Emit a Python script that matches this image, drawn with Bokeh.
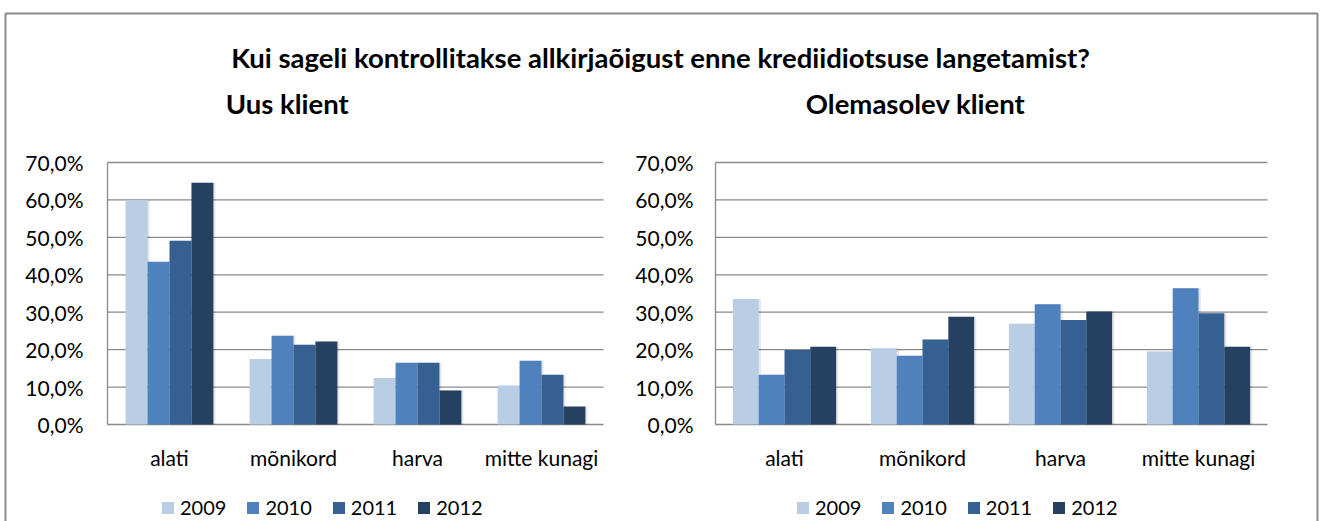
from bokeh.plotting import figure
from bokeh.models import (Range1d, Legend, LegendItem, ColumnDataSource, Label, LabelSet)
from bokeh.core.properties import value
from bokeh.transform import dodge
from bokeh.embed import file_html
from bokeh.resources import INLINE

# ---------------- data ----------------
main_title = "Kui sageli kontrollitakse allkirjaõigust enne krediidiotsuse langetamist?"
categories = ["alati", "mõnikord", "harva", "mitte kunagi"]
years = ["2009", "2010", "2011", "2012"]

uus_title = "Uus klient"
uus_2009 = [60.0, 17.5, 12.4, 10.4]
uus_2010 = [43.5, 23.7, 16.5, 17.0]
uus_2011 = [49.1, 21.3, 16.5, 13.3]
uus_2012 = [64.6, 22.2, 9.1, 4.8]

ole_title = "Olemasolev klient"
ole_2009 = [33.5, 20.4, 26.9, 19.5]
ole_2010 = [13.3, 18.4, 32.1, 36.4]
ole_2011 = [19.9, 22.7, 27.9, 29.7]
ole_2012 = [20.8, 28.8, 30.2, 20.8]

y_ticks = [0, 10, 20, 30, 40, 50, 60, 70]
y_tick_labels = ["0,0%", "10,0%", "20,0%", "30,0%", "40,0%", "50,0%", "60,0%", "70,0%"]

colors = ["#B9CDE5", "#4F81BD", "#376092", "#254061"]

FONT = "Lato"
GRID = "#8a8a8a"
TICK_FS = "21px"

# category slots: category i occupies [i, i+1] on each chart's x scale
cat_pos = [i + 0.5 for i in range(len(categories))]
n_cat = len(categories)

W, H = 1320, 521
PX_Y = 262 / 70          # pixels per percentage point
# ---------------- figure ----------------
# the frame covers the whole canvas; the left chart uses the main x range,
# the right chart an extra x range, both share the y range (0..70 %)
p = figure(x_range=Range1d(-107 / 124, -107 / 124 + W / 124),
           y_range=Range1d(-(H - 424) / PX_Y, 70 + 162 / PX_Y),
           width=W, height=H,
           min_border_left=0, min_border_right=0,
           min_border_top=0, min_border_bottom=0,
           output_backend="svg", toolbar_location=None,
           outline_line_color=None)
p.extra_x_ranges = {"right": Range1d(-715 / 138, -715 / 138 + W / 138)}
p.xaxis.visible = False
p.yaxis.visible = False
p.xgrid.grid_line_color = None
p.ygrid.grid_line_color = None

# outer frame of the picture
p.line(x=[-0.8226, -0.8226, 9.758, 9.758], y=[-40, 109.8, 109.8, -40],
       line_color=GRID, line_width=2)

grid_src = ColumnDataSource(dict(y=y_ticks, lab=y_tick_labels))
cat_src = ColumnDataSource(dict(x=cat_pos, cat=categories))


def chart(subtitle, series, rng, bar_w, label_gap):
    # gridlines + vertical axis line
    p.segment(x0=0, x1=n_cat, y0="y", y1="y", source=grid_src, x_range_name=rng,
              line_color=GRID, line_width=1.3)
    p.segment(x0=0, x1=0, y0=y_ticks[0], y1=y_ticks[-1], x_range_name=rng,
              line_color=GRID, line_width=1.3)
    src = ColumnDataSource(dict(x=cat_pos, **{y: s for y, s in zip(years, series)}))
    rend = []
    for i, (yr, c) in enumerate(zip(years, colors)):
        off = (i - 1.5) * bar_w
        # soft shadow like the original chart
        p.vbar(x=dodge("x", off + 0.016), top=yr, width=bar_w, source=src,
               x_range_name=rng, fill_color="#000000", fill_alpha=0.10, line_color=None)
        r = p.vbar(x=dodge("x", off), top=yr, width=bar_w, source=src,
                   x_range_name=rng, fill_color=c, line_color=None)
        rend.append(r)
    # tick labels
    p.add_layout(LabelSet(x=0, y="y", text="lab", source=grid_src, x_range_name=rng,
                          x_offset=-label_gap, text_align="right", text_baseline="middle",
                          text_font=value(FONT), text_font_size=value(TICK_FS),
                          text_color="#000000"))
    # category labels
    p.add_layout(LabelSet(x="x", y=-8.8, text="cat", source=cat_src, x_range_name=rng,
                          text_align="center", text_baseline="middle",
                          text_font=value(FONT), text_font_size=value(TICK_FS),
                          text_color="#000000"))
    # subtitle
    p.add_layout(Label(x=1.45, y=85.8, text=subtitle, x_range_name=rng,
                       text_align="center", text_baseline="middle",
                       text_font=FONT, text_font_size="27.5px", text_font_style="bold",
                       text_color="#000000"))
    return rend


r_left = chart(uus_title, [uus_2009, uus_2010, uus_2011, uus_2012], "default", 0.177, 24)
r_right = chart(ole_title, [ole_2009, ole_2010, ole_2011, ole_2012], "right", 0.187, 22)

# main title
p.add_layout(Label(x=4.46, y=98.0, text=main_title,
                   text_align="center", text_baseline="middle",
                   text_font=FONT, text_font_size="27.5px", text_font_style="bold",
                   text_color="#000000"))

# legends
for rend, loc in ((r_left, (160, 2)), (r_right, (795, 2))):
    legend = Legend(items=[LegendItem(label=y, renderers=[r]) for y, r in zip(years, rend)],
                    orientation="horizontal", location=loc,
                    border_line_color=None, background_fill_alpha=0,
                    padding=0, margin=0,
                    glyph_width=15, glyph_height=15, label_height=20,
                    label_standoff=5, spacing=19,
                    label_text_font=FONT, label_text_font_size="20px",
                    label_text_color="#000000")
    p.add_layout(legend, "center")

open("out.html", "w").write(file_html(p, INLINE))
